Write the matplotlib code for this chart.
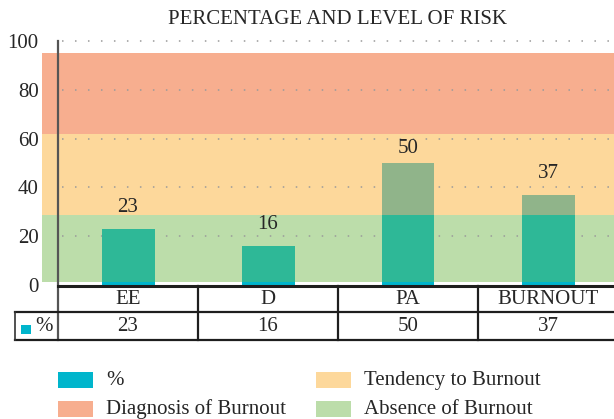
import matplotlib
matplotlib.use("Agg")
import matplotlib.pyplot as plt
from matplotlib.patches import Rectangle
from matplotlib import transforms

categories = ["EE", "D", "PA", "BURNOUT"]
values = [23, 16, 50, 37]
series_name = "%"
title = "PERCENTAGE AND LEVEL OF RISK"
yticks = [0, 20, 40, 60, 80, 100]

band_names = ["Absence of Burnout", "Tendency to Burnout", "Diagnosis of Burnout"]
band_lower = [1.3, 28.8, 61.7]
band_upper = [28.8, 61.7, 95.2]

# colours
bar_color = "#00B5CC"
band_colors = ["#BCDDAA", "#FDD89B", "#F7AE8F"]
overlay_colors = ["#2EB897", "#90B48A", "#D9988A"]
text_color = "#262626"

plt.rcParams['font.family'] = ['Liberation Serif', 'DejaVu Serif']

W, H = 614, 419
fig = plt.figure(figsize=(W / 100, H / 100), dpi=100)

def fx(p):
    return p / W

def fy(p):
    return 1 - p / H

ax_left, ax_right, ax_top, ax_bottom = 58, 618, 41, 285
ax = fig.add_axes([fx(ax_left), fy(ax_bottom), (ax_right - ax_left) / W, (ax_bottom - ax_top) / H])
n = len(categories)
ax.set_xlim(-0.5, n - 0.5)
ax.set_ylim(0, 100)
for s in ax.spines.values():
    s.set_visible(False)
ax.set_xticks([])
ax.set_yticks(yticks)
ax.set_yticklabels([str(t) for t in yticks], fontsize=15, color=text_color)
ax.tick_params(axis='y', length=0, pad=14)
ax.patch.set_alpha(0)

# px helpers in blended coords: x in data, y in figure pixels (top-down)
px_per_cat = (ax_right - ax_left) / n
def xd(p):
    return -0.5 + (p - ax_left) / px_per_cat

yfig = transforms.blended_transform_factory(ax.transData, fig.transFigure)

# bands
band_patches = []
for lo, hi, c in zip(band_lower, band_upper, band_colors):
    r = Rectangle((xd(42), lo), xd(ax_right) - xd(42), hi - lo, facecolor=c,
                  edgecolor='none', zorder=0.5, clip_on=False)
    ax.add_patch(r)
    band_patches.append(r)

# dotted grid
for t in yticks[1:]:
    ax.plot([xd(62), xd(ax_right)], [t, t], color="#9A9A9A", lw=1.1,
            linestyle=(0, (1, 7.5)), zorder=1, clip_on=False)

# bars
x = list(range(n))
bw = 53 / px_per_cat
ax.bar(x, values, width=bw, color=bar_color, zorder=2)
for r, oc in zip(band_patches, overlay_colors):
    bars = ax.bar(x, values, width=bw, color=oc, zorder=3)
    for b in bars:
        b.set_clip_path(r)

# value labels
for xi, v in zip(x, values):
    off = 5 if v >= 45 else 12
    ax.annotate(str(v), (xi, v), xytext=(0, off), textcoords='offset pixels',
                ha='center', va='bottom', fontsize=15, color=text_color, zorder=5)

# title
fig.text(fx((ax_left + ax_right) / 2), fy(20), title, ha='center', va='center',
         fontsize=15, color=text_color)

# y axis line
fig.add_artist(plt.Line2D([fx(58), fx(58)], [fy(41), fy(340)], color="#555555", lw=1.6))

# table
line_c = "#1E1E1E"
fig.add_artist(plt.Line2D([fx(58), fx(618)], [fy(285.7), fy(285.7)], color=line_c, lw=2.2))
fig.add_artist(plt.Line2D([fx(15), fx(618)], [fy(312.3), fy(312.3)], color=line_c, lw=1.6))
fig.add_artist(plt.Line2D([fx(15), fx(618)], [fy(340), fy(340)], color=line_c, lw=1.6))
fig.add_artist(plt.Line2D([fx(15), fx(15)], [fy(312.3), fy(340)], color="#333333", lw=1.2))
for i in range(1, n + 1):
    ax.plot([i - 0.5, i - 0.5], [fy(285.7), fy(340)], color=line_c, lw=1.6,
            transform=yfig, clip_on=False)
for xi, c, v in zip(x, categories, values):
    ax.text(xi, fy(299), c, transform=yfig, ha='center', va='center',
            fontsize=15, color=text_color)
    ax.text(xi, fy(326), str(v), transform=yfig, ha='center', va='center',
            fontsize=15, color=text_color)
fig.add_artist(Rectangle((fx(21), fy(333.5)), 10 / W, 8.5 / H, transform=fig.transFigure,
                         facecolor=bar_color, edgecolor='none'))
fig.text(fx(35), fy(326), series_name, ha='left', va='center', fontsize=15, color=text_color)

# legend
legend_items = [(series_name, bar_color, 58, 380), (band_names[2], band_colors[2], 58, 409),
                (band_names[1], band_colors[1], 316, 380), (band_names[0], band_colors[0], 316, 409)]
for name, c, lx, ly in legend_items:
    fig.add_artist(Rectangle((fx(lx), fy(ly + 8)), 35 / W, 16 / H, transform=fig.transFigure,
                             facecolor=c, edgecolor='none'))
    fig.text(fx(lx + 48), fy(ly), name, ha='left', va='center', fontsize=15, color=text_color)

fig.savefig("out.png", dpi=100)
